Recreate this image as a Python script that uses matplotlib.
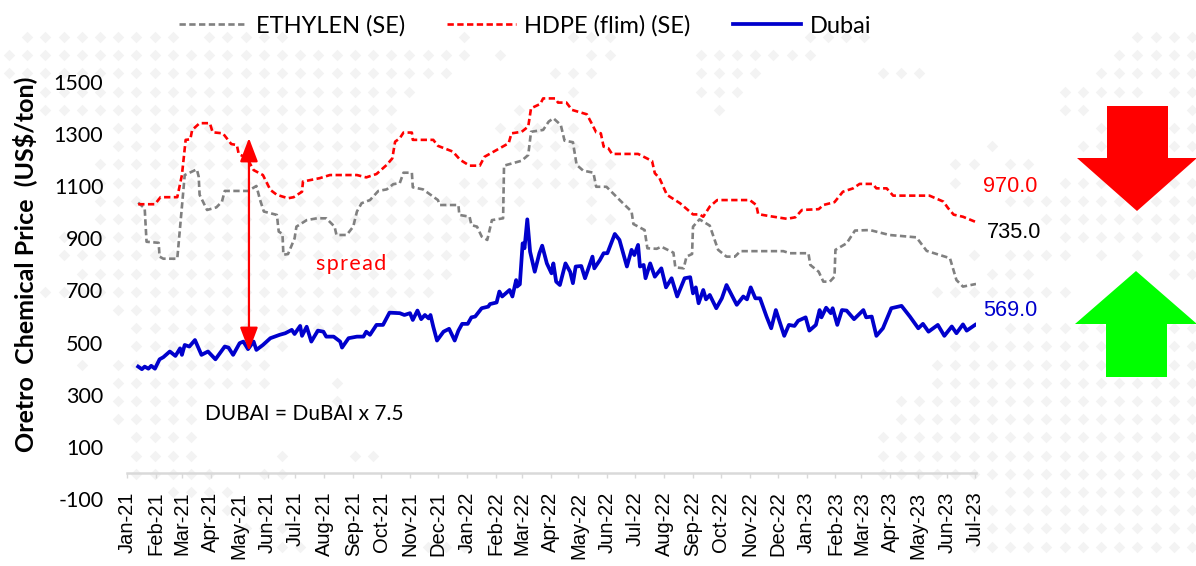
import matplotlib
matplotlib.use('Agg')
import matplotlib.pyplot as plt
from matplotlib.patches import Polygon
import pandas as pd

plt.rcParams['axes.unicode_minus'] = False

START = pd.Timestamp('2021-01-01')
months = pd.date_range('2021-01-01', '2023-07-01', freq='MS')
month_labels = [m.strftime('%b-%y') for m in months]
y_ticks = [-100, 100, 300, 500, 700, 900, 1100, 1300, 1500]

# days since Jan-21, values in US$/ton
hdpe_days = [12, 30, 36, 54, 59, 63, 68, 70, 78, 89, 92, 103, 112, 118, 120, 129, 136, 146, 154, 161, 173, 179, 188, 189,
             207, 218, 247, 257, 268, 279, 285, 288, 293, 297, 306, 307, 329, 334, 350, 358, 368, 379, 384, 397, 410, 413,
             424, 431, 434, 444, 447, 460, 463, 472, 478, 494, 499, 504, 509, 512, 517, 521, 549, 564, 567, 572, 580, 594,
             608, 615, 619, 626, 634, 669, 676, 678, 691, 709, 718, 725, 743, 748, 760, 769, 780, 787, 801, 805, 816, 823,
             862, 877, 882, 888, 898, 911]
hdpe = [1031, 1031, 1058, 1058, 1143, 1278, 1280, 1316, 1342, 1342, 1307, 1303, 1262, 1258, 1224, 1207, 1162, 1143, 1086,
        1067, 1054, 1058, 1079, 1118, 1131, 1143, 1143, 1134, 1147, 1182, 1207, 1271, 1284, 1306, 1306, 1278, 1278, 1255,
        1233, 1201, 1179, 1179, 1213, 1239, 1265, 1303, 1309, 1329, 1399, 1416, 1437, 1437, 1421, 1421, 1393, 1376, 1342,
        1307, 1303, 1252, 1246, 1224, 1224, 1197, 1150, 1131, 1067, 1035, 992, 992, 983, 1022, 1047, 1047, 1028, 993, 985,
        975, 981, 1009, 1012, 1028, 1039, 1079, 1092, 1109, 1109, 1092, 1092, 1064, 1064, 1041, 1016, 991, 983, 964]

ethylene_days = [12, 19, 21, 34, 35, 39, 54, 59, 62, 75, 77, 78, 86, 96, 102, 105, 130, 139, 143, 147, 161, 163, 167, 168,
                 173, 180, 182, 193, 204, 214, 223, 225, 236, 243, 247, 252, 261, 270, 279, 286, 293, 297, 306, 307, 318,
                 334, 336, 356, 357, 368, 370, 376, 381, 387, 392, 404, 405, 424, 431, 434, 447, 453, 458, 466, 470, 479,
                 483, 490, 501, 504, 515, 531, 542, 544, 556, 559, 569, 574, 587, 589, 598, 601, 607, 608, 615, 626, 630,
                 635, 644, 653, 659, 705, 712, 732, 734, 743, 748, 755, 760, 761, 773, 782, 798, 819, 848, 859, 884, 891,
                 898, 912]
ethylene = [1037, 1015, 887, 883, 830, 822, 822, 1022, 1143, 1165, 1137, 1067, 1009, 1019, 1041, 1082, 1082, 1101, 1047,
            1003, 990, 926, 917, 837, 840, 900, 945, 970, 977, 977, 945, 913, 913, 945, 1003, 1035, 1047, 1082, 1088, 1108,
            1112, 1152, 1152, 1096, 1088, 1047, 1028, 1028, 990, 983, 951, 945, 907, 894, 970, 977, 1179, 1198, 1220, 1309,
            1316, 1348, 1361, 1335, 1275, 1269, 1182, 1160, 1152, 1098, 1098, 1041, 1003, 955, 932, 862, 860, 868, 845, 789,
            785, 830, 840, 945, 973, 949, 907, 856, 830, 830, 851, 851, 843, 843, 798, 772, 734, 734, 753, 856, 881, 930,
            932, 913, 904, 852, 824, 740, 715, 725]

dubai_days = [12, 16, 19, 23, 26, 30, 35, 39, 46, 52, 57, 59, 62, 67, 73, 80, 87, 95, 105, 109, 114, 121, 125, 130, 136, 139,
              146, 154, 164, 170, 177, 180, 186, 188, 193, 198, 205, 211, 214, 222, 229, 231, 238, 247, 254, 257, 261, 268,
              275, 282, 293, 298, 304, 307, 312, 316, 320, 324, 326, 329, 333, 340, 346, 352, 356, 360, 366, 370, 374, 381,
              388, 390, 397, 400, 403, 411, 414, 418, 419, 422, 425, 427, 430, 433, 438, 443, 446, 451, 456, 458, 461, 465,
              471, 476, 479, 482, 488, 492, 500, 502, 508, 512, 516, 524, 529, 537, 542, 545, 549, 551, 555, 557, 562, 567,
              574, 579, 585, 591, 599, 605, 608, 611, 614, 619, 622, 626, 633, 639, 644, 655, 662, 666, 670, 675, 680, 687,
              692, 697, 706, 711, 717, 721, 729, 733, 740, 744, 746, 751, 756, 758, 763, 768, 773, 781, 791, 794, 800, 805,
              812, 821, 832, 841, 850, 855, 861, 871, 878, 886, 891, 898, 902, 911]
dubai = [408, 398, 408, 400, 411, 400, 436, 444, 466, 449, 478, 453, 491, 485, 510, 453, 466, 436, 485, 481, 453, 498, 504,
         475, 504, 472, 491, 517, 530, 536, 549, 533, 564, 526, 561, 504, 546, 542, 523, 523, 504, 481, 517, 523, 523, 542,
         530, 568, 568, 615, 613, 606, 613, 587, 623, 590, 606, 593, 606, 561, 508, 542, 553, 508, 546, 572, 572, 597, 600,
         632, 638, 648, 654, 696, 677, 702, 677, 740, 715, 724, 881, 862, 973, 849, 772, 843, 872, 804, 766, 804, 734, 721,
         804, 772, 728, 792, 794, 747, 830, 785, 817, 843, 843, 917, 894, 792, 856, 836, 875, 792, 798, 747, 804, 753, 785,
         712, 747, 677, 747, 751, 689, 712, 651, 702, 666, 683, 632, 670, 721, 645, 677, 666, 712, 670, 670, 600, 555, 625,
         526, 568, 564, 584, 597, 546, 568, 625, 597, 634, 613, 632, 568, 625, 623, 590, 625, 597, 600, 526, 555, 632, 641,
         600, 555, 572, 542, 568, 526, 562, 536, 570, 546, 568]

# which columns of the dotted backdrop are filled, row by row
bg_rows = [
    [(1, 9), (11, 15), (25, 25), (31, 33), (44, 47), (62, 65)],
    [(0, 25), (27, 27), (32, 33), (38, 44), (61, 65)],
    [(0, 24), (30, 32), (38, 41), (48, 50), (60, 65)],
    [(1, 21), (22, 22), (31, 31), (38, 40), (58, 62), (64, 65)],
    [(1, 21), (28, 28), (39, 39), (58, 59), (65, 65)],
    [(6, 21), (27, 31), (60, 60), (64, 65)],
    [(6, 21), (28, 31), (54, 54), (59, 60), (64, 65)],
    [(5, 21), (29, 33), (52, 53), (55, 56)],
    [(5, 21), (25, 33), (52, 52), (58, 62), (64, 65)],
    [(5, 28), (32, 32), (55, 65)],
    [(5, 25), (32, 33), (57, 65)],
    [(3, 25), (58, 65)],
    [(3, 25), (53, 53), (55, 58), (60, 60), (62, 62), (64, 65)],
    [(4, 24), (54, 56), (64, 65)],
    [(2, 23), (51, 58)],
    [(6, 21)],
    [(7, 18), (55, 65)],
    [(7, 15), (52, 65)],
    [(4, 4), (6, 14), (51, 65)],
    [(6, 14), (18, 18), (51, 65)],
    [(6, 10), (18, 18), (49, 65)],
    [(6, 10), (49, 65)],
    [(7, 10), (48, 65)],
    [(7, 10), (15, 15), (19, 20), (48, 65)],
    [(7, 11), (14, 15), (48, 65)],
    [(9, 12), (55, 65)],
    [(11, 14), (53, 65)],
    [(13, 15), (22, 22), (53, 65)],
    [(15, 16), (22, 25), (53, 65)],
]

fig = plt.figure(figsize=(11.96, 5.66), dpi=100)
W, H = 1196, 566

bg = fig.add_axes([0, 0, 1, 1], zorder=0)
bg.set_xlim(0, W)
bg.set_ylim(H, 0)
bg.axis('off')
dx, dy = [], []
for k, row in enumerate(bg_rows):
    for a, b in row:
        for c in range(a, b + 1):
            dx.append(9 + 18.2 * c)
            dy.append(37 + 18.2 * k)
bg.scatter(dx, dy, marker='D', s=34, color='#f3f3f3', linewidths=0)
# big trend arrows
bg.add_patch(Polygon([(1107, 106), (1168, 106), (1168, 158), (1197, 158), (1137, 211), (1077, 158), (1107, 158)],
                     color='#ff0000', lw=0, zorder=5))
bg.add_patch(Polygon([(1106, 377), (1167, 377), (1167, 324), (1197, 324), (1136, 271), (1075, 324), (1106, 324)],
                     color='#00ff00', lw=0, zorder=5))

ax = fig.add_axes([127 / W, 1 - 499 / H, (976 - 127) / W, (499 - 82) / H], zorder=2)
ax.patch.set_alpha(0)


def to_dates(days):
    return START + pd.to_timedelta(days, unit='D')


ax.plot(to_dates(ethylene_days), ethylene, color='#808080', lw=1.9, ls=(0, (2.4, 1.3)), label='ETHYLEN (SE)')
ax.plot(to_dates(hdpe_days), hdpe, color='#ff0000', lw=1.9, ls=(0, (2.4, 1.3)), label='HDPE (flim) (SE)')
ax.plot(to_dates(dubai_days), dubai, color='#0000cc', lw=2.7, label='Dubai')

# spine first, moving it resets the tick labels
for s in ['top', 'right', 'left']:
    ax.spines[s].set_visible(False)
ax.spines['bottom'].set_position(('data', 0))
ax.spines['bottom'].set_color('#d9d9d9')
ax.spines['bottom'].set_linewidth(1.8)

ax.set_xlim(START, START + pd.Timedelta(days=912))
ax.set_ylim(-100, 1500)
ax.set_yticks(y_ticks)
ax.set_xticks(months)
ax.set_xticklabels(month_labels, rotation=90, family='Liberation Sans', fontsize=14.5)
for t in ax.get_yticklabels():
    t.set_family('Lato')
    t.set_fontsize(15.5)
ax.tick_params(axis='y', length=0, pad=17)
ax.tick_params(axis='x', length=3.5, width=1, color='#d9d9d9', pad=10)

fig.text(25 / W, 1 - 264 / H, 'Oretro  Chemical Price  (US$/ton)', rotation=90, ha='center', va='center',
         family='Lato', fontweight='bold', fontsize=18)

ax.annotate('', xy=(START + pd.Timedelta(days=131), 1285), xytext=(START + pd.Timedelta(days=131), 468),
            arrowprops=dict(arrowstyle='<|-|>,head_length=1.45,head_width=0.55', mutation_scale=10,
                            color='#ff0000', lw=1.6, shrinkA=0, shrinkB=0))

ax.text(START + pd.Timedelta(days=203), 802, 's\u200ap\u200ar\u200ae\u200aa\u200ad', color='#ff0000',
        family=['Lato', 'DejaVu Sans'], fontsize=15.5, va='center')
ax.text(START + pd.Timedelta(days=84), 226, 'DUBAI = DuBAI x 7.5', color='black',
        family='Lato', fontsize=15, va='center')

bg.text(983, 186, '970.0', color='#ff0000', family='Liberation Sans', fontsize=15.7, va='center')
bg.text(987, 232, '735.0', color='black', family='Liberation Sans', fontsize=15.7, va='center')
bg.text(983, 310, '569.0', color='#0000cc', family='Liberation Sans', fontsize=15.7, va='center')

leg = ax.legend(ncol=3, frameon=False, loc='center', bbox_to_anchor=(525 / W, 1 - 26 / H),
                bbox_transform=fig.transFigure, prop={'family': 'Lato', 'size': 17},
                handlelength=2.9, handletextpad=0.35, columnspacing=1.8)

fig.savefig('out.png', dpi=100)
